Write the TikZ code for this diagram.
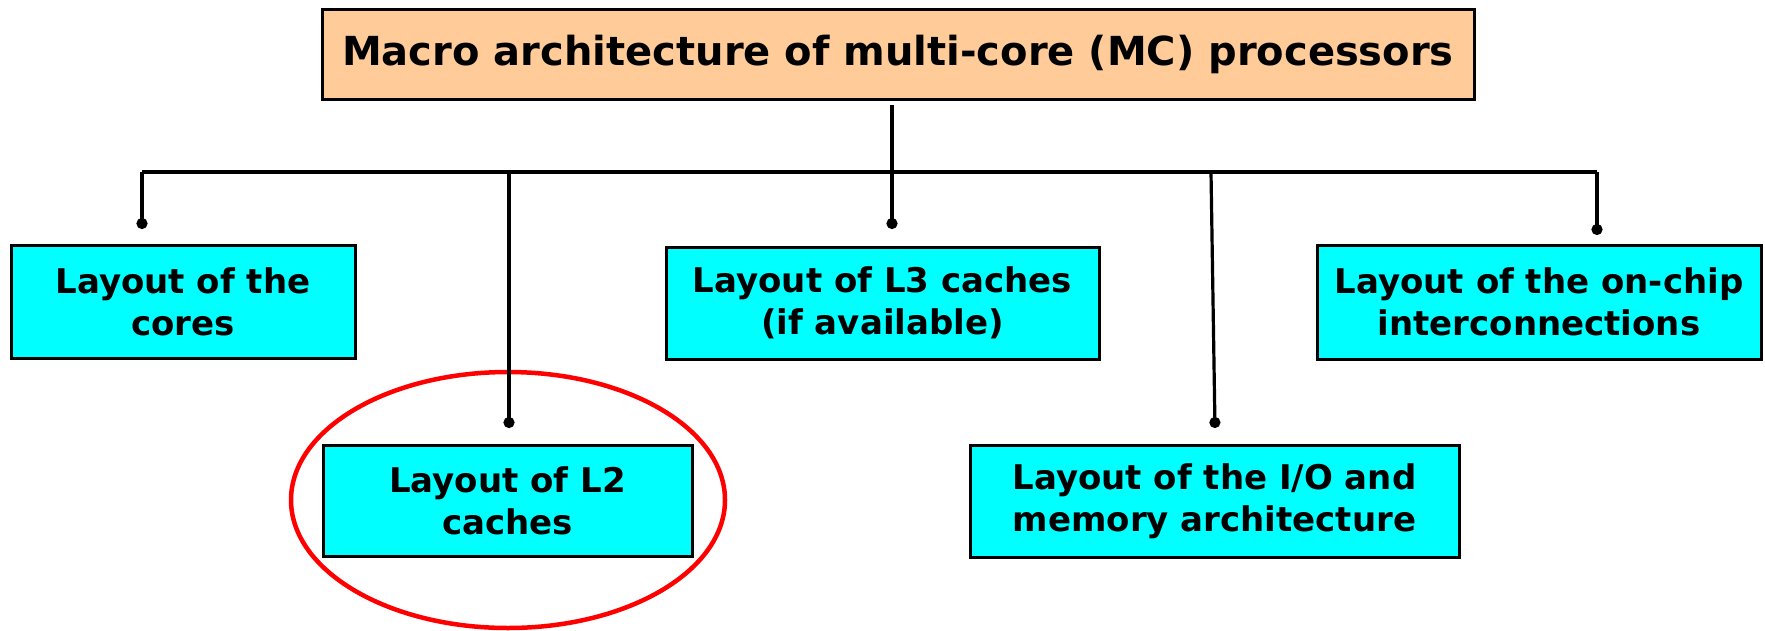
\documentclass[tikz,border=0pt]{standalone}
\usepackage{fontspec}
\setmainfont{DejaVu Sans}
\usetikzlibrary{arrows.meta,shapes.geometric}
\definecolor{peach}{HTML}{FFCC99}
\definecolor{aqua}{HTML}{00FFFF}
\definecolor{ringred}{HTML}{FF0000}
\tikzset{
  headbox/.style={draw=black, line width=3pt, fill=peach, minimum width=1152pt, minimum height=90pt,
    inner sep=0pt, font=\fontsize{40}{46}\selectfont\bfseries},
  itembox/.style={draw=black, line width=3pt, fill=aqua, inner sep=0pt, align=center,
    font=\fontsize{34}{42}\selectfont\bfseries},
  wire/.style={draw=black, line width=3.2pt},
  dotwire/.style={wire, -{Circle[length=11pt,width=11pt]}},
  ring/.style={draw=ringred, line width=4.5pt}
}
\begin{document}
\begin{tikzpicture}[x=1pt, y=-1pt]
\useasboundingbox (0,0) rectangle (1765,630);
% root box
\node[headbox] (root) at (898,54) {Macro architecture of multi-core (MC) processors};
% second-level boxes
\node[itembox, minimum width=344pt, minimum height=113pt] (cores) at (183,301.5) {Layout of the\\cores};
\node[itembox, minimum width=369pt, minimum height=111pt] (ltwo) at (507.5,500.5) {Layout of L2\\caches};
\node[itembox, minimum width=433pt, minimum height=112pt] (lthree) at (882.5,303) {Layout of L3 caches\\(if available)};
\node[itembox, minimum width=489pt, minimum height=112pt] (io) at (1214.5,501) {Layout of the I/O and\\memory architecture};
\node[itembox, minimum width=444pt, minimum height=114pt] (noc) at (1539,302) {Layout of the on-chip\\interconnections};
% highlight around the L2 box
\node[ring, ellipse, minimum width=434pt, minimum height=256pt, inner sep=0pt] (hl) at (508,500) {};
% bus points
\coordinate (r0) at (892,105);
\coordinate (r1) at (892,172);
\coordinate (bl) at (142,172);
\coordinate (br) at (1597,172);
\coordinate (b2) at (509,172);
\coordinate (b4) at (1211,172);
\coordinate (d1) at (142,229);
\coordinate (d2) at (509,428);
\coordinate (d3) at (892,229);
\coordinate (d4) at (1215,428);
\coordinate (d5) at (1597,235);
% connectors
\draw[wire] (r0) -- (r1);
\draw[wire] (bl) -- (br);
\draw[dotwire] (bl) -- (d1);
\draw[dotwire] (b2) -- (d2);
\draw[dotwire] (r1) -- (d3);
\draw[dotwire] (b4) -- (d4);
\draw[dotwire] (br) -- (d5);
\end{tikzpicture}
\end{document}
